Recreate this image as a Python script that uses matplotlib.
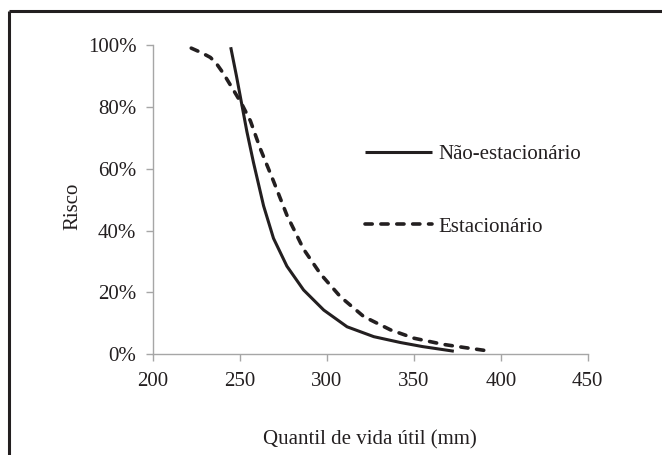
import matplotlib
matplotlib.use("Agg")
import matplotlib.pyplot as plt
from matplotlib.lines import Line2D
from matplotlib.ticker import FuncFormatter

# Data
nonstat_x = [244.7, 248.0, 251.0, 254.0, 257.8, 263.6, 269.3, 277.0, 286.6, 298.2,
             311.6, 327.0, 342.4, 355.0, 373.0]
nonstat_y = [99.3, 90.0, 81.0, 72.0, 62.0, 48.0, 37.5, 28.5, 20.8, 14.3,
             8.9, 5.7, 3.8, 2.5, 1.0]
stat_x = [222.0, 228.0, 233.0, 236.5, 240.5, 246.2, 251.0, 256.0, 261.7, 269.3,
          277.0, 286.6, 296.3, 307.8, 321.2, 336.6, 350.1, 367.0, 379.0, 394.0]
stat_y = [99.0, 97.5, 96.0, 94.0, 90.8, 85.5, 81.0, 75.5, 66.5, 56.0,
          45.0, 34.0, 26.0, 18.6, 12.2, 7.9, 5.2, 3.2, 2.2, 1.0]

x_ticks = [200, 250, 300, 350, 400, 450]
y_ticks = [0, 20, 40, 60, 80, 100]
labels = ["Não-estacionário", "Estacionário"]

plt.rcParams['font.family'] = ['Liberation Serif', 'DejaVu Serif']

FS = 15
fig = plt.figure(figsize=(6.62, 4.55), dpi=100)
ax = fig.add_axes([0.2311, 0.2213, 0.8878 - 0.2311, 0.901 - 0.2213])

lc = '#231f20'
ax.plot(nonstat_x, nonstat_y, color=lc, lw=2.2, label=labels[0],
        solid_capstyle='butt', solid_joinstyle='round')
ax.plot(stat_x, stat_y, color=lc, lw=2.6, label=labels[1], linestyle=(0, (2.0, 2.4)),
        dash_capstyle='round', dash_joinstyle='round')

ax.set_xlim(200, 450)
ax.set_ylim(0, 100)
ax.set_xticks(x_ticks)
ax.set_yticks(y_ticks)
ax.yaxis.set_major_formatter(FuncFormatter(lambda v, p: f"{int(v)}%"))

gray = '#a6a6a6'
for s in ['top', 'right']:
    ax.spines[s].set_visible(False)
for s in ['left', 'bottom']:
    ax.spines[s].set_color(gray)
    ax.spines[s].set_linewidth(1.0)
ax.tick_params(axis='both', direction='out', length=5, width=1.0, color=gray,
               labelsize=FS, labelcolor='#231f20')
ax.tick_params(axis='x', pad=8)
ax.tick_params(axis='y', pad=7)

fig.text(73 / 662, 1 - 206 / 455, "Risco", rotation=90, ha='center', va='center',
         fontsize=FS, color='#231f20')
fig.text(370 / 662, 1 - 440 / 455, "Quantil de vida útil (mm)", ha='center', va='center',
         fontsize=FS, color='#231f20')

leg = ax.legend(loc='center left', bbox_to_anchor=(0.488, 0.53), frameon=False,
                fontsize=FS, handlelength=3.2, handletextpad=0.3, labelspacing=2.55,
                borderpad=0, borderaxespad=0)
for t in leg.get_texts():
    t.set_color('#231f20')

# outer frame (top and left visible)
fc = '#231f20'
fig.add_artist(Line2D([9 / 662, 1.0], [1 - 11 / 455, 1 - 11 / 455], transform=fig.transFigure,
                      color=fc, lw=2.2, solid_capstyle='butt'))
fig.add_artist(Line2D([9 / 662, 9 / 662], [0.0, 1 - 11 / 455], transform=fig.transFigure,
                      color=fc, lw=2.2, solid_capstyle='butt'))

fig.savefig("out.png", dpi=100)
